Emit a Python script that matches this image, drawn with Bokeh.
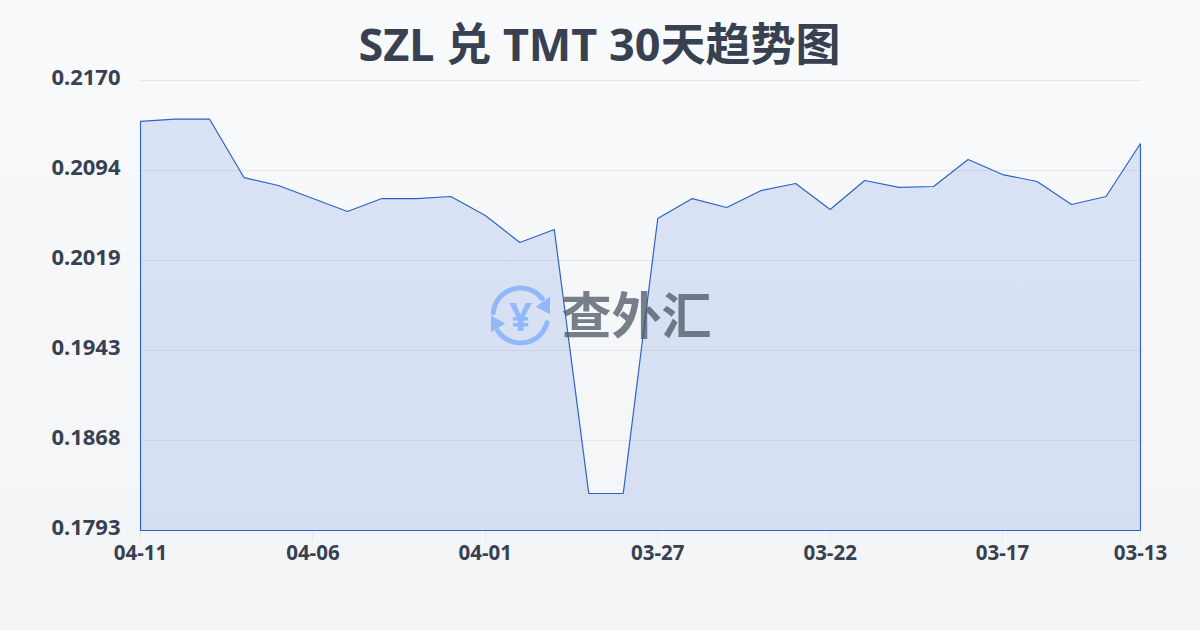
from bokeh.plotting import figure
from bokeh.models import FixedTicker, Range1d, Title
from bokeh.core.properties import value
from bokeh.embed import file_html
from bokeh.resources import INLINE

TITLE = "SZL 兑 TMT 30天趋势图"
WATERMARK = "查外汇"
# newest to oldest, as in the reference (left = 04-11)
rates = [0.21357, 0.21377, 0.21377, 0.20887, 0.20820, 0.20711, 0.20603, 0.20711, 0.20711, 0.20728,
         0.20569, 0.20343, 0.20452, 0.18240, 0.18240, 0.20544, 0.20711, 0.20636, 0.20778, 0.20837,
         0.20619, 0.20862, 0.20804, 0.20812, 0.21038, 0.20912, 0.20854, 0.20661, 0.20728, 0.21172]
x_ticks = [0, 5, 10, 15, 20, 25, 29]
x_labels = ["04-11", "04-06", "04-01", "03-27", "03-22", "03-17", "03-13"]
y_ticks = [0.2170, 0.20946, 0.20192, 0.19438, 0.18684, 0.1793]
y_labels = ["0.2170", "0.2094", "0.2019", "0.1943", "0.1868", "0.1793"]

FONT = "Noto Sans, Noto Sans CJK SC"
INK = "#374151"

X0, X1, Y0, Y1 = 0, 29, 0.1793, 0.2170
XPAD, YPAD = (X1 - X0) / 1000, (Y1 - Y0) / 450   # one pixel in data units
p = figure(width=1200, height=630, output_backend="svg", toolbar_location=None,
           x_range=Range1d(X0 - XPAD, X1 + XPAD), y_range=Range1d(Y0 - YPAD, Y1 + 5 * YPAD),
           min_border_left=139, min_border_right=59, min_border_top=75, min_border_bottom=99)
p.background_fill_color = None
p.border_fill_color = None
p.outline_line_color = None

p.add_layout(Title(text=TITLE, text_font=FONT, text_font_style="bold", text_font_size="45px",
                   text_color=INK, align="left", offset=219, standoff=3), "above")

# the reference's y labels sit 3px above their grid lines
label_ticks = [t + 3 * YPAD for t in y_ticks]
p.xaxis.ticker = FixedTicker(ticks=x_ticks)
p.xaxis.major_label_overrides = dict(zip(x_ticks, x_labels))
p.yaxis.ticker = FixedTicker(ticks=label_ticks)
p.yaxis.major_label_overrides = dict(zip(label_ticks, y_labels))
p.ygrid.ticker = FixedTicker(ticks=y_ticks)
for ax in (p.xaxis[0], p.yaxis[0]):
    ax.major_label_text_font = FONT
    ax.major_label_text_font_style = "bold"
    ax.major_label_text_color = INK
    ax.axis_line_color = None
    ax.minor_tick_line_color = None
p.xaxis.major_label_text_font_size = "20.5px"
p.yaxis.major_label_text_font_size = "22px"
p.xaxis.major_tick_line_color = "#e5e7eb"
p.xaxis.major_tick_in = 0
p.xaxis.major_tick_out = 9
p.xaxis.major_label_standoff = 4
p.yaxis.major_tick_line_color = None
p.yaxis.major_label_standoff = 13
p.xgrid.visible = False
p.ygrid.grid_line_color = "#e5e7eb"
p.ygrid.grid_line_width = 1

xs = list(range(len(rates)))
p.patch(xs + [xs[-1], xs[0]], rates + [Y0, Y0], fill_color="#3068d4", fill_alpha=0.15,
        line_color="#2f62c8", line_width=1.2)

# watermark: page pixels converted to the data space of the frame
def dx(px):
    return X0 + (px - 140) / 1000 * (X1 - X0)
def dy(py):
    return Y0 + (530 - py) / 450 * (Y1 - Y0)

BLUE = "#93b8f8"
p.arc(x=[dx(520)], y=[dy(315)], radius=[27.5], radius_units="screen", start_angle=[0.66], end_angle=[3.04],
      line_color=BLUE, line_width=5, line_cap="round")
p.arc(x=[dx(520)], y=[dy(315)], radius=[27.5], radius_units="screen", start_angle=[3.74], end_angle=[6.02],
      line_color=BLUE, line_width=5, line_cap="round")
p.patch([dx(549), dx(549), dx(536)], [dy(297), dy(313), dy(306)], fill_color=BLUE, line_color=BLUE, line_width=1)
p.patch([dx(491), dx(491), dx(504)], [dy(316), dy(331), dy(323)], fill_color=BLUE, line_color=BLUE, line_width=1)
p.text(x=[dx(520)], y=[dy(315)], text=["¥"], text_font=value(FONT), text_font_style="bold",
       text_font_size="40px", text_color=BLUE, text_align="center", text_baseline="middle")
p.text(x=[dx(636)], y=[dy(311)], text=[WATERMARK], text_font=value("Noto Sans CJK SC"), text_font_style="bold",
       text_font_size="50px", text_color="#4b5563", text_alpha=0.75, text_align="center", text_baseline="middle")

STYLE = ("<style>html{height:100%;background:linear-gradient(180deg,#f8fafc 0%,#f3f4f6 100%);}"
         "body{background:transparent;}</style>")
open("out.html", "w").write(file_html(p, INLINE).replace("</head>", STYLE + "</head>"))
